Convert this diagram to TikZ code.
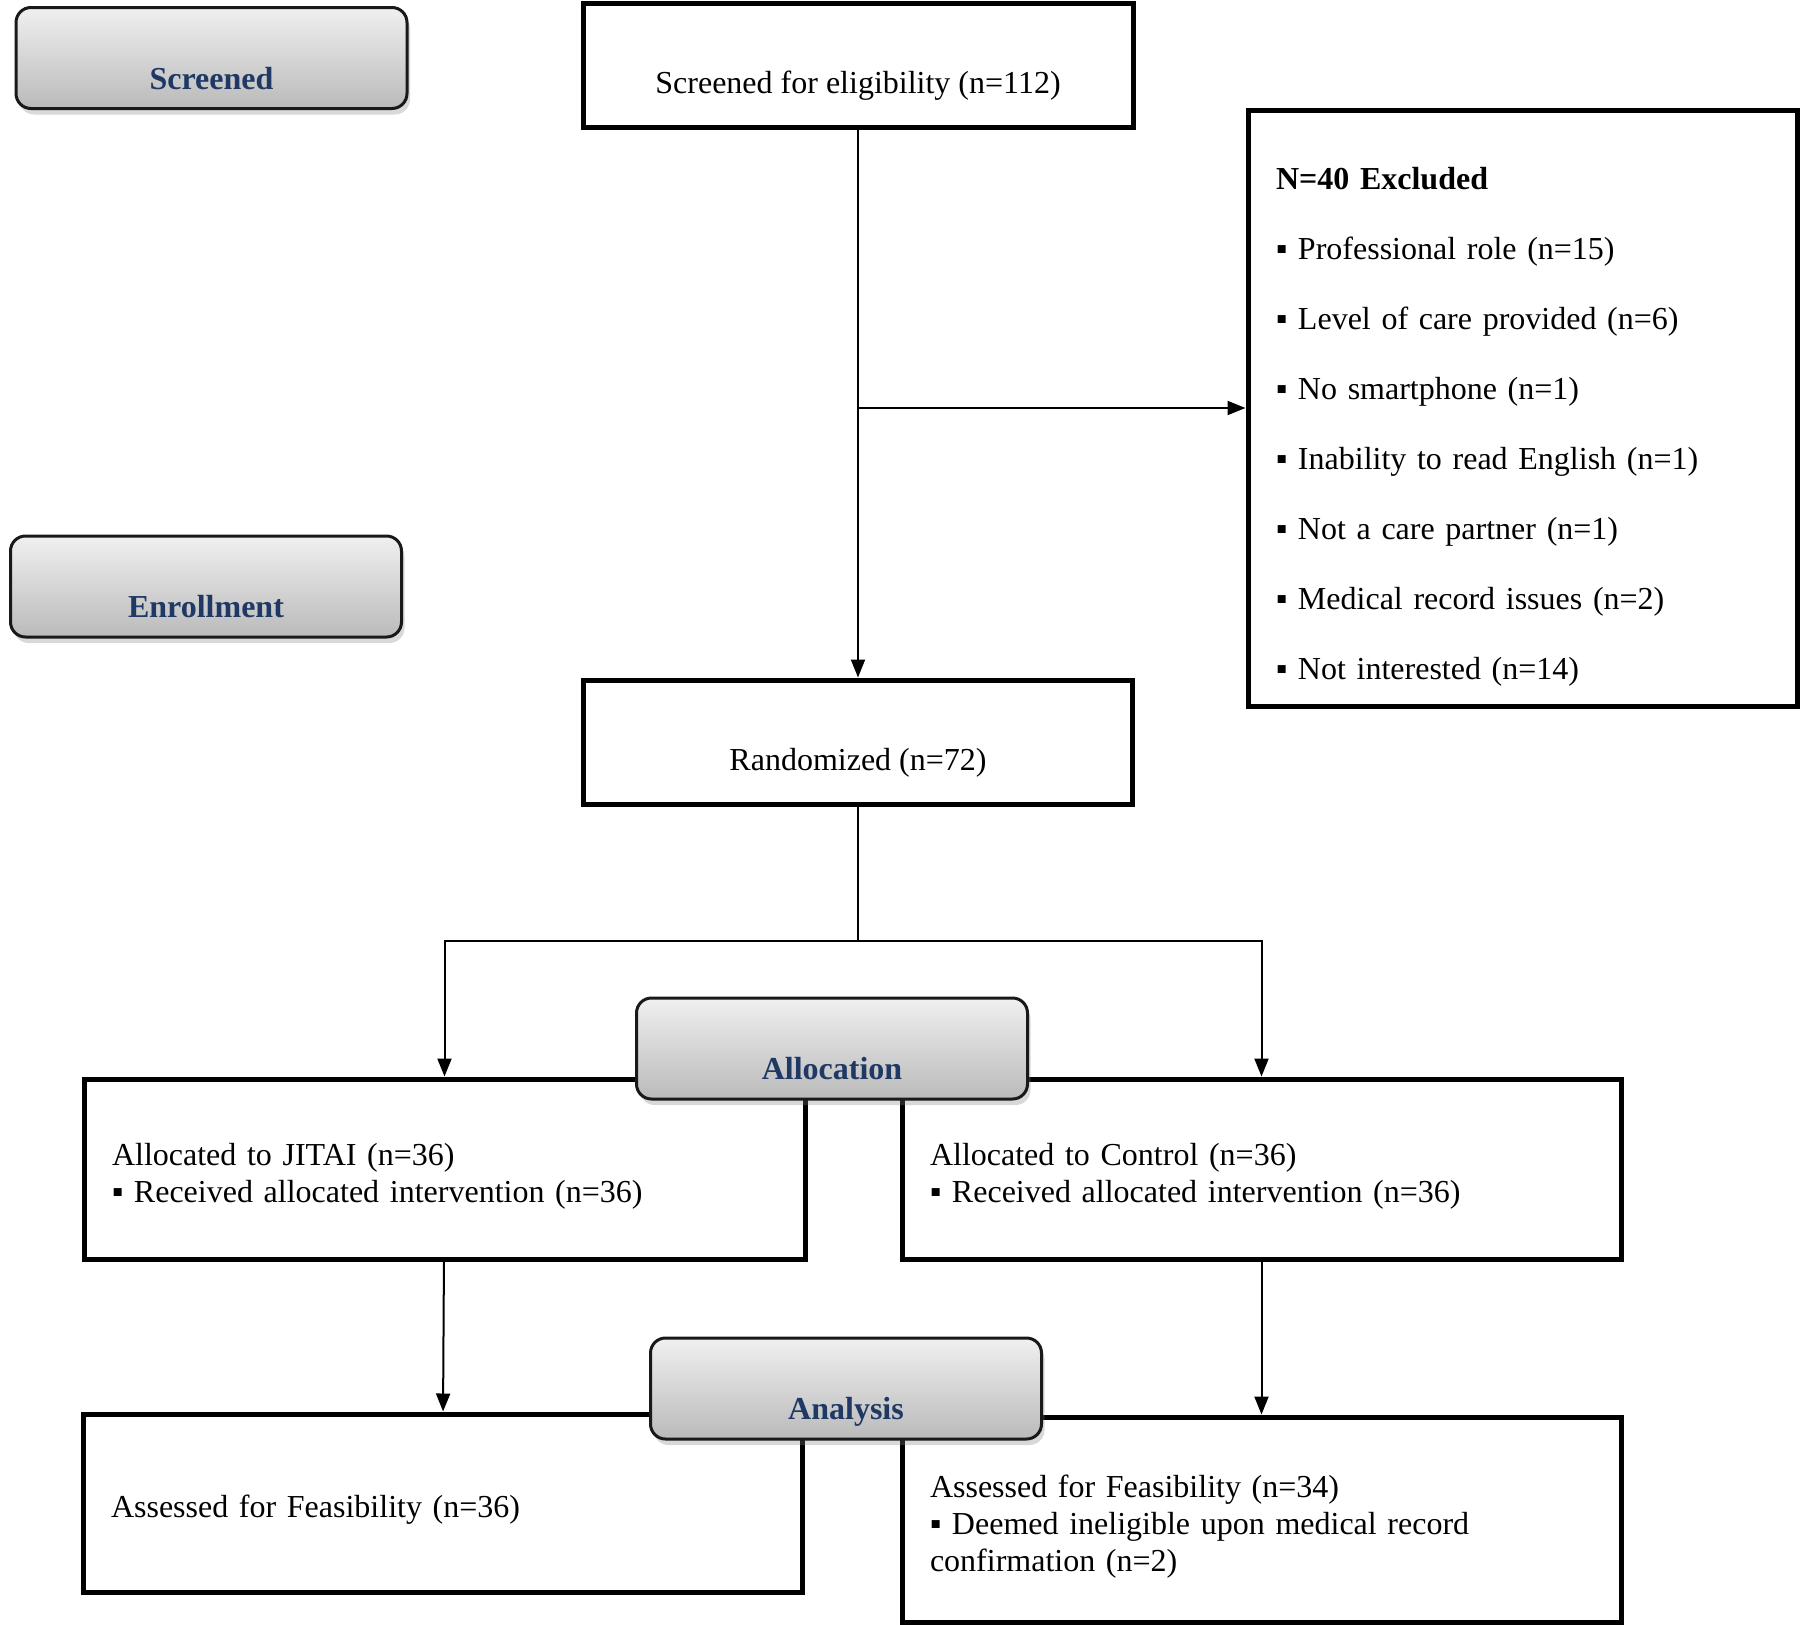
\documentclass[tikz,border=0pt]{standalone}
\usepackage{fontspec}
\setmainfont{Liberation Serif}
\usetikzlibrary{arrows.meta,shadows}

\definecolor{stageblue}{RGB}{31,56,100}

\tikzset{
  % ----- the plain boxes of the flow
  box/.style={
    rectangle, draw=black, line width=5pt, fill=white,
    inner xsep=28pt, inner ysep=0pt, align=left
  },
  % ----- the grey stage tabs
  stage/.style={
    rectangle, rounded corners=15pt, draw=black!90, line width=3pt,
    top color=black!6, bottom color=black!27,
    drop shadow={shadow xshift=3pt, shadow yshift=-6pt, opacity=0.3},
    minimum width=391pt, minimum height=101pt, inner ysep=0pt,
    text height=62pt, text depth=0pt,
    font=\fontsize{32}{37}\selectfont\bfseries, text=stageblue
  }
}

\begin{document}
\begin{tikzpicture}[
                x = 1pt, y = -1pt, % pixel grid, y going down
                > = {Triangle[length=18pt, width=14pt]}, % arrow head style
                line width = 2pt, % connector style
                font = \fontsize{32}{37}\selectfont
            ]
        \tikzstyle{lowtext} = [text height=56pt, text depth=0pt]
        \tikzstyle{armtext} = [execute at begin node={\rule{0pt}{36pt}}]
        \useasboundingbox (0,0) rectangle (1800,1625);

        % screening and enrollment
        \node[box, lowtext, align=center, minimum width=550pt, minimum height=124pt] (scr) at (858,65) {Screened for eligibility (n=112)};
        \node[box, text width=493pt, minimum height=596pt, font=\fontsize{32}{70}\selectfont] (excl) at (1522.5,408) {\rule{0pt}{59pt}\textbf{N=40 Excluded}\\
            ▪ Professional role (n=15)\\
            ▪ Level of care provided (n=6)\\
            ▪ No smartphone (n=1)\\
            ▪ Inability to read English (n=1)\\
            ▪ Not a care partner (n=1)\\
            ▪ Medical record issues (n=2)\\
            ▪ Not interested (n=14)};
        \node[box, lowtext, align=center, minimum width=549pt, minimum height=124pt] (rand) at (858,742) {Randomized (n=72)};

        % the two arms
        \node[box, armtext, text width=665pt, minimum height=180pt] (jitai) at (444.5,1169) {Allocated to JITAI (n=36)\\ ▪ Received allocated intervention (n=36)};
        \node[box, armtext, text width=663pt, minimum height=180pt] (ctrl) at (1261.5,1169) {Allocated to Control (n=36)\\ ▪ Received allocated intervention (n=36)};
        \node[box, armtext, text width=663pt, minimum height=178pt] (asl) at (442.5,1503) {Assessed for Feasibility (n=36)};
        \node[box, armtext, text width=663pt, minimum height=205pt] (asr) at (1261.5,1519.5) {Assessed for Feasibility (n=34)\\ ▪ Deemed ineligible upon medical record\\ confirmation (n=2)};

        % connectors
        \coordinate (split) at (858,941);
        \draw[->] (scr) -- (rand);
        \draw[->] (scr.south |- excl.west) -- (excl.west);
        \draw (rand) -- (split);
        \draw[->] (split) -| (jitai);
        \draw[->] (split) -| (ctrl);
        \draw[->] (jitai) -- (asl);
        \draw[->] (ctrl) -- (asr);

        % stage tabs, on top of the boxes
        \foreach \lab/\x/\y in {Screened/211.5/58, Enrollment/206/586.5, Allocation/832/1048.5, Analysis/846/1388.5}{
            \node[stage] (L-\lab) at (\x,\y) {\lab};
        }
    \end{tikzpicture}
\end{document}
